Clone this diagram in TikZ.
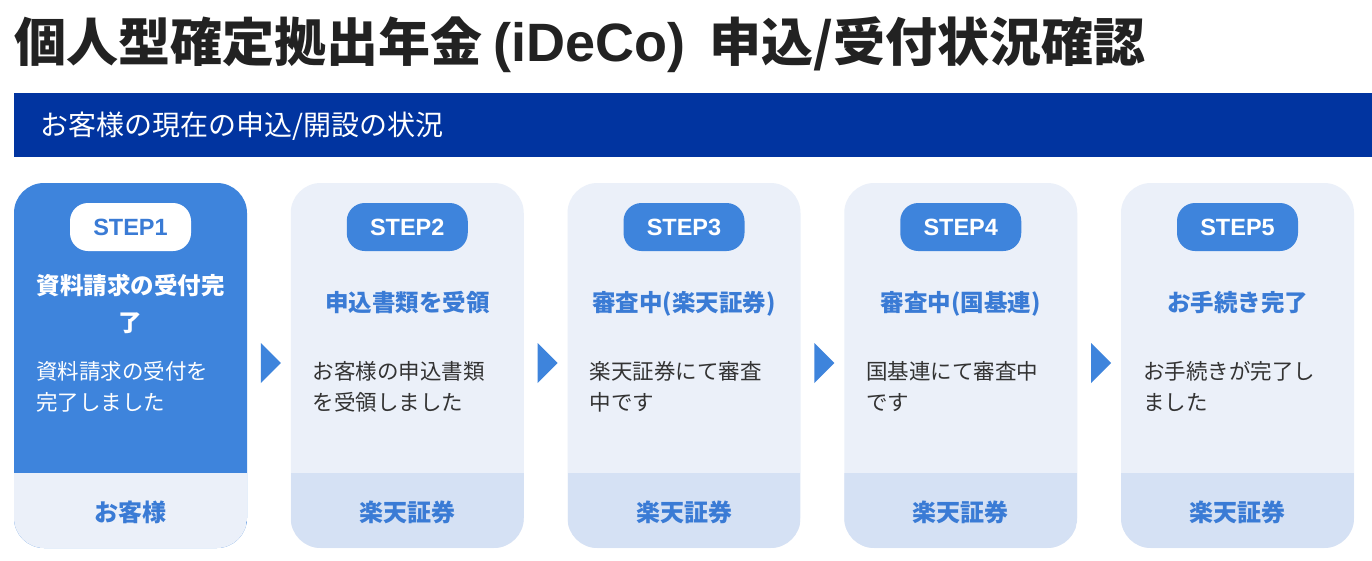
\documentclass[tikz,border=0pt]{standalone}
\usepackage{fontspec}
\newfontfamily\jp{Noto Sans CJK JP}
\newfontfamily\lat{Liberation Sans}
\usetikzlibrary{calc}
\definecolor{mainblue}{HTML}{3E84DC}
\definecolor{txtblue}{HTML}{3A7BD5}
\definecolor{bodycol}{HTML}{EBF0F9}
\definecolor{footcol}{HTML}{D5E1F4}
\definecolor{bannercol}{HTML}{0134A0}
\definecolor{titlecol}{HTML}{222222}
\definecolor{desccol}{HTML}{333333}
\tikzset{
  card/.style n args={2}{rectangle, rounded corners=30pt, minimum width=233pt, minimum height=365pt, inner sep=0pt, fill=#1,
    path picture={\fill[#2, sharp corners] (path picture bounding box.south west) rectangle ([yshift=75pt]path picture bounding box.south east);}},
  pill/.style={rectangle, rounded corners=18pt, minimum width=121pt, minimum height=48pt, inner sep=0pt, font=\lat\bfseries\fontsize{23.5}{28}\selectfont},
  pillblue/.style={pill, fill=mainblue, text=white},
  pillwhite/.style={pill, fill=white, text=txtblue},
  ctitle/.style={inner sep=0pt, anchor=base, text=txtblue, font=\jp\bfseries\fontsize{23.5}{28}\selectfont},
  desc/.style={inner sep=0pt, anchor=base west, text=desccol, font=\jp\fontsize{21.5}{31}\selectfont},
  foot/.style={inner sep=0pt, anchor=base, text=txtblue, font=\jp\bfseries\fontsize{24}{28}\selectfont},
  arr/.style={fill=mainblue},
}
\begin{document}
\begin{tikzpicture}[x=1pt,y=-1pt]
\useasboundingbox[fill=white] (0,0) rectangle (1372,560);
% title
\node[inner sep=0pt, anchor=base west, text=titlecol, font=\jp\bfseries\fontsize{52}{60}\selectfont] (title) at (14,61) {個人型確定拠出年金\hspace{11pt}{\lat\bfseries\fontsize{54}{60}\selectfont (iDeCo)}\hspace{24pt}申込/受付状況確認};
% banner
\node[rectangle, fill=bannercol, minimum width=1358pt, minimum height=64pt, inner sep=0pt, anchor=north west] (ban) at (14,93) {};
\node[inner sep=0pt, anchor=base west, text=white, font=\jp\fontsize{28}{34}\selectfont] (bantxt) at (40,135) {お客様の現在の申込/開設の状況};
% cards
\node[card={mainblue}{bodycol}] (c1) at (130.5,365.5) {};
\node[card={bodycol}{footcol}] (c2) at (407.25,365.5) {};
\node[card={bodycol}{footcol}] (c3) at (684,365.5) {};
\node[card={bodycol}{footcol}] (c4) at (960.75,365.5) {};
\node[card={bodycol}{footcol}] (c5) at (1237.5,365.5) {};
% pills
\node[pillwhite] (s1) at (130.5,227) {STEP1};
\node[pillblue] (s2) at (407.25,227) {STEP2};
\node[pillblue] (s3) at (684,227) {STEP3};
\node[pillblue] (s4) at (960.75,227) {STEP4};
\node[pillblue] (s5) at (1237.5,227) {STEP5};
% card titles
\node[ctitle, text=white] (t1a) at (130.5,294) {資料請求の受付完};
\node[ctitle, text=white] (t1b) at (130.5,331) {了};
\node[ctitle] (t2) at (407.25,311) {申込書類を受領};
\node[ctitle] (t3) at (684,311) {審査中(楽天証券)};
\node[ctitle] (t4) at (960.75,311) {審査中(国基連)};
\node[ctitle] (t5) at (1237.5,311) {お手続き完了};
% descriptions
\node[desc, text=white] (d1a) at (36,379) {資料請求の受付を};
\node[desc, text=white] (d1b) at (36,410) {完了しました};
\node[desc] (d2a) at (312.75,379) {お客様の申込書類};
\node[desc] (d2b) at (312.75,410) {を受領しました};
\node[desc] (d3a) at (589.5,379) {楽天証券にて審査};
\node[desc] (d3b) at (589.5,410) {中です};
\node[desc] (d4a) at (866.25,379) {国基連にて審査中};
\node[desc] (d4b) at (866.25,410) {です};
\node[desc] (d5a) at (1143,379) {お手続きが完了し};
\node[desc] (d5b) at (1143,410) {ました};
% footers
\node[foot] (f1) at (130.5,521) {お客様};
\node[foot] (f2) at (407.25,521) {楽天証券};
\node[foot] (f3) at (684,521) {楽天証券};
\node[foot] (f4) at (960.75,521) {楽天証券};
\node[foot] (f5) at (1237.5,521) {楽天証券};
% arrows between cards
\foreach \a/\b in {c1/c2,c2/c3,c3/c4,c4/c5}{
  \coordinate (m) at ($(\a.east)!0.5!(\b.west)+(2,-2.5)$);
  \fill[arr] (m) ++(-10,-20) -- ++(20,20) -- ++(-20,20) -- cycle;
}
\end{tikzpicture}
\end{document}
